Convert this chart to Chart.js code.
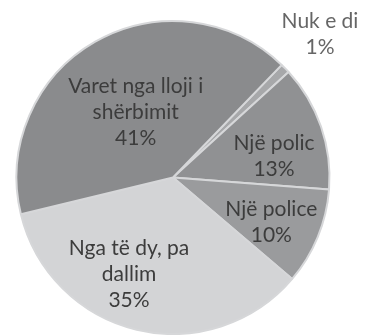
<!DOCTYPE html>
<html>
<head>
<meta charset="utf-8">
<script src="https://cdn.jsdelivr.net/npm/chart.js@4.4.0/dist/chart.umd.min.js"></script>
<style>
  html, body { margin: 0; padding: 0; background: #fff; }
  #wrap { width: 365px; height: 335px; position: relative; }
</style>
</head>
<body>
<div id="wrap"><canvas id="pie" width="365" height="335"></canvas></div>
<script>
// Përgjigjet (%)
const categories = ['Nuk e di', 'Një polic', 'Një police', 'Nga të dy, pa dallim', 'Varet nga lloji i shërbimit'];
const labelLines = [['Nuk e di'], ['Një polic'], ['Një police'], ['Nga të dy, pa', 'dallim'], ['Varet nga lloji i', 'shërbimit']];
const values = [1, 13, 10, 35, 41];

const sliceColors = ['#a7a8aa', '#909193', '#9a9b9d', '#d3d4d6', '#8a8b8d'];

// ku vendoset teksti: sa larg nga qendra (pjesë e rrezes) dhe sa gradë zhvendosje
const labelRadius = [1.31, 0.66, 0.69, 0.68, 0.48];
const labelNudge = [0, 7, 2, 11, 0];

function shade(hex, amt) {
    const n = parseInt(hex.slice(1), 16);
    const c = [(n >> 16) & 255, (n >> 8) & 255, n & 255].map(v => Math.max(0, Math.min(255, Math.round(v + amt))));
    return 'rgb(' + c.join(',') + ')';
}

// gradient i lehtë nga qendra drejt buzës
function sliceFill(context) {
    const base = sliceColors[context.dataIndex];
    const chart = context.chart;
    const arc = chart.getDatasetMeta(0).data[context.dataIndex];
    if (!arc || !arc.outerRadius) return base;
    const g = chart.ctx.createRadialGradient(arc.x, arc.y, 0, arc.x, arc.y, arc.outerRadius);
    g.addColorStop(0, shade(base, 6));
    g.addColorStop(0.85, base);
    g.addColorStop(1, shade(base, -14));
    return g;
}

const pieLabels = {
    id: 'pieLabels',
    afterDatasetsDraw(chart) {
        const ctx = chart.ctx;
        const meta = chart.getDatasetMeta(0);
        ctx.save();
        ctx.font = '21px Lato';
        ctx.textAlign = 'center';
        ctx.textBaseline = 'middle';
        meta.data.forEach((arc, i) => {
            const p = arc.getProps(['x', 'y', 'startAngle', 'endAngle', 'outerRadius'], true);
            const mid = (p.startAngle + p.endAngle) / 2 + labelNudge[i] * Math.PI / 180;
            const r = p.outerRadius * labelRadius[i];
            const cx = p.x + Math.cos(mid) * r;
            const cy = p.y + Math.sin(mid) * r;
            const lines = labelLines[i].concat([values[i] + '%']);
            const lh = 26;
            const top = cy - (lines.length - 1) * lh / 2;
            ctx.fillStyle = labelRadius[i] > 1 ? '#666' : '#3c3c3c';
            lines.forEach((t, k) => ctx.fillText(t, cx, top + k * lh));
        });
        ctx.restore();
    }
};

new Chart(document.getElementById('pie'), {
    type: 'pie',
    data: {
        labels: categories,
        datasets: [{
            data: values,
            backgroundColor: sliceFill,
            borderColor: '#d6d7d9',
            borderWidth: 2
        }]
    },
    options: {
        responsive: false,
        animation: false,
        rotation: 44,
        layout: { padding: { left: 15, right: 34, top: 20, bottom: 0 } },
        plugins: {
            legend: { display: false },
            tooltip: { enabled: false }
        }
    },
    plugins: [pieLabels]
});
</script>
</body>
</html>
